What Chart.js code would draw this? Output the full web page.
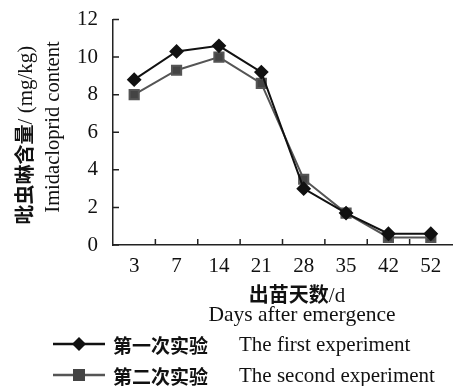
<!DOCTYPE html>
<html>
<head>
<meta charset="utf-8">
<script src="https://cdn.jsdelivr.net/npm/chart.js@4"></script>
<style>
    html, body { margin: 0; padding: 0; background: #fff; }
    #wrap { position: relative; width: 453px; height: 386px; overflow: hidden; }
    #chart { position: absolute; left: 0; top: 0; }
    .txt { position: absolute; white-space: nowrap; color: #111; font-family: "Liberation Serif", serif; font-size: 21px; line-height: 1; }
    .cjk { font-family: "Noto Sans CJK SC", sans-serif; font-weight: bold; font-size: 19px; }
    .ytitle { transform: translate(-50%, -50%) rotate(-90deg); }
    .center { transform: translateX(-50%); }
    .legend-row { position: absolute; left: 53px; height: 22px; display: flex; align-items: center; }
    .legend-row svg { margin-right: 8px; }
</style>
</head>
<body>
<div id="wrap">
    <canvas id="chart" width="453" height="386"></canvas>

    <div class="txt ytitle" style="left:25px; top:135px;"><span class="cjk" style="font-size:20px;">吡虫啉含量</span>/ (mg/kg)</div>
    <div class="txt ytitle" style="left:52px; top:127px; font-size:20.5px;">Imidacloprid content</div>

    <div class="txt center" style="left:297px; top:284px;"><span class="cjk" style="font-size:20px;">出苗天数</span>/d</div>
    <div class="txt center" style="left:302px; top:304px; font-size:21.5px;">Days after emergence</div>

    <div class="legend-row" style="top:333px;">
        <svg width="52" height="16"><line x1="0" y1="8" x2="52" y2="8" stroke="#111" stroke-width="2.5"/><polygon points="26,1 33,8 26,15 19,8" fill="#111"/></svg>
        <span class="txt cjk" style="position:static;">第一次实验</span>
        <span class="txt" style="position:static; margin-left:31px;">The first experiment</span>
    </div>
    <div class="legend-row" style="top:364px;">
        <svg width="52" height="16"><line x1="0" y1="8" x2="52" y2="8" stroke="#555" stroke-width="2.5"/><rect x="20" y="2" width="12" height="12" fill="#444"/></svg>
        <span class="txt cjk" style="position:static;">第二次实验</span>
        <span class="txt" style="position:static; margin-left:31px;">The second experiment</span>
    </div>
</div>

<script>
// 데이터
const days = ['3', '7', '14', '21', '28', '35', '42', '52'];
const firstExp = [8.8, 10.3, 10.6, 9.2, 3.0, 1.7, 0.6, 0.6];
const secondExp = [8.0, 9.3, 10.0, 8.6, 3.5, 1.7, 0.4, 0.4];
const yTicks = [0, 2, 4, 6, 8, 10, 12];

// 안쪽으로 향하는 눈금 표시
const inwardTicks = {
    id: 'inwardTicks',
    afterDraw(chart) {
        const ctx = chart.ctx;
        const x = chart.scales.x, y = chart.scales.y;
        ctx.save();
        ctx.strokeStyle = '#222';
        ctx.lineWidth = 1.5;
        ctx.beginPath();
        y.ticks.forEach((_, i) => {
            const py = y.getPixelForTick(i);
            ctx.moveTo(y.right, py);
            ctx.lineTo(y.right + 6, py);
        });
        const step = x.getPixelForTick(1) - x.getPixelForTick(0);
        for (let i = 1; i < days.length; i++) {
            const px = x.getPixelForTick(i) - step / 2;
            ctx.moveTo(px, x.top);
            ctx.lineTo(px, x.top - 6);
        }
        ctx.stroke();
        ctx.restore();
    }
};

new Chart(document.getElementById('chart'), {
    type: 'line',
    data: {
        labels: days,
        datasets: [{
            label: '第一次实验 The first experiment',
            data: firstExp,
            borderColor: '#111',
            backgroundColor: '#111',
            borderWidth: 2,
            pointStyle: 'rectRot',
            pointRadius: 6,
            pointHoverRadius: 6,
            tension: 0
        }, {
            label: '第二次实验 The second experiment',
            data: secondExp,
            borderColor: '#555',
            backgroundColor: '#444',
            borderWidth: 2,
            pointStyle: 'rect',
            pointRadius: 6.5,
            pointHoverRadius: 6.5,
            tension: 0
        }]
    },
    options: {
        responsive: false,
        animation: false,
        layout: { autoPadding: false, padding: { top: 19.5, right: 1, left: 0, bottom: 0 } },
        plugins: { legend: { display: false }, tooltip: { enabled: false } },
        scales: {
            x: {
                offset: true,
                grid: { display: false, drawTicks: false },
                border: { display: true, color: '#222', width: 1.5 },
                ticks: { color: '#111', padding: 9, font: { family: 'Liberation Serif', size: 21 } },
                afterFit: s => { s.height = 141; s.paddingLeft = 0; s.paddingRight = 0; }
            },
            y: {
                min: 0,
                max: 12,
                afterBuildTicks: s => { s.ticks = yTicks.map(v => ({ value: v })); },
                grid: { display: false, drawTicks: false },
                border: { display: true, color: '#222', width: 1.5 },
                ticks: { color: '#111', padding: 15, font: { family: 'Liberation Serif', size: 21 } },
                // 라벨 높이만큼 생기는 위쪽 여백 제거
                afterFit: s => { s.width = 113; s.paddingTop = 0; s.paddingBottom = 0; }
            }
        }
    },
    plugins: [inwardTicks]
});
</script>
</body>
</html>
